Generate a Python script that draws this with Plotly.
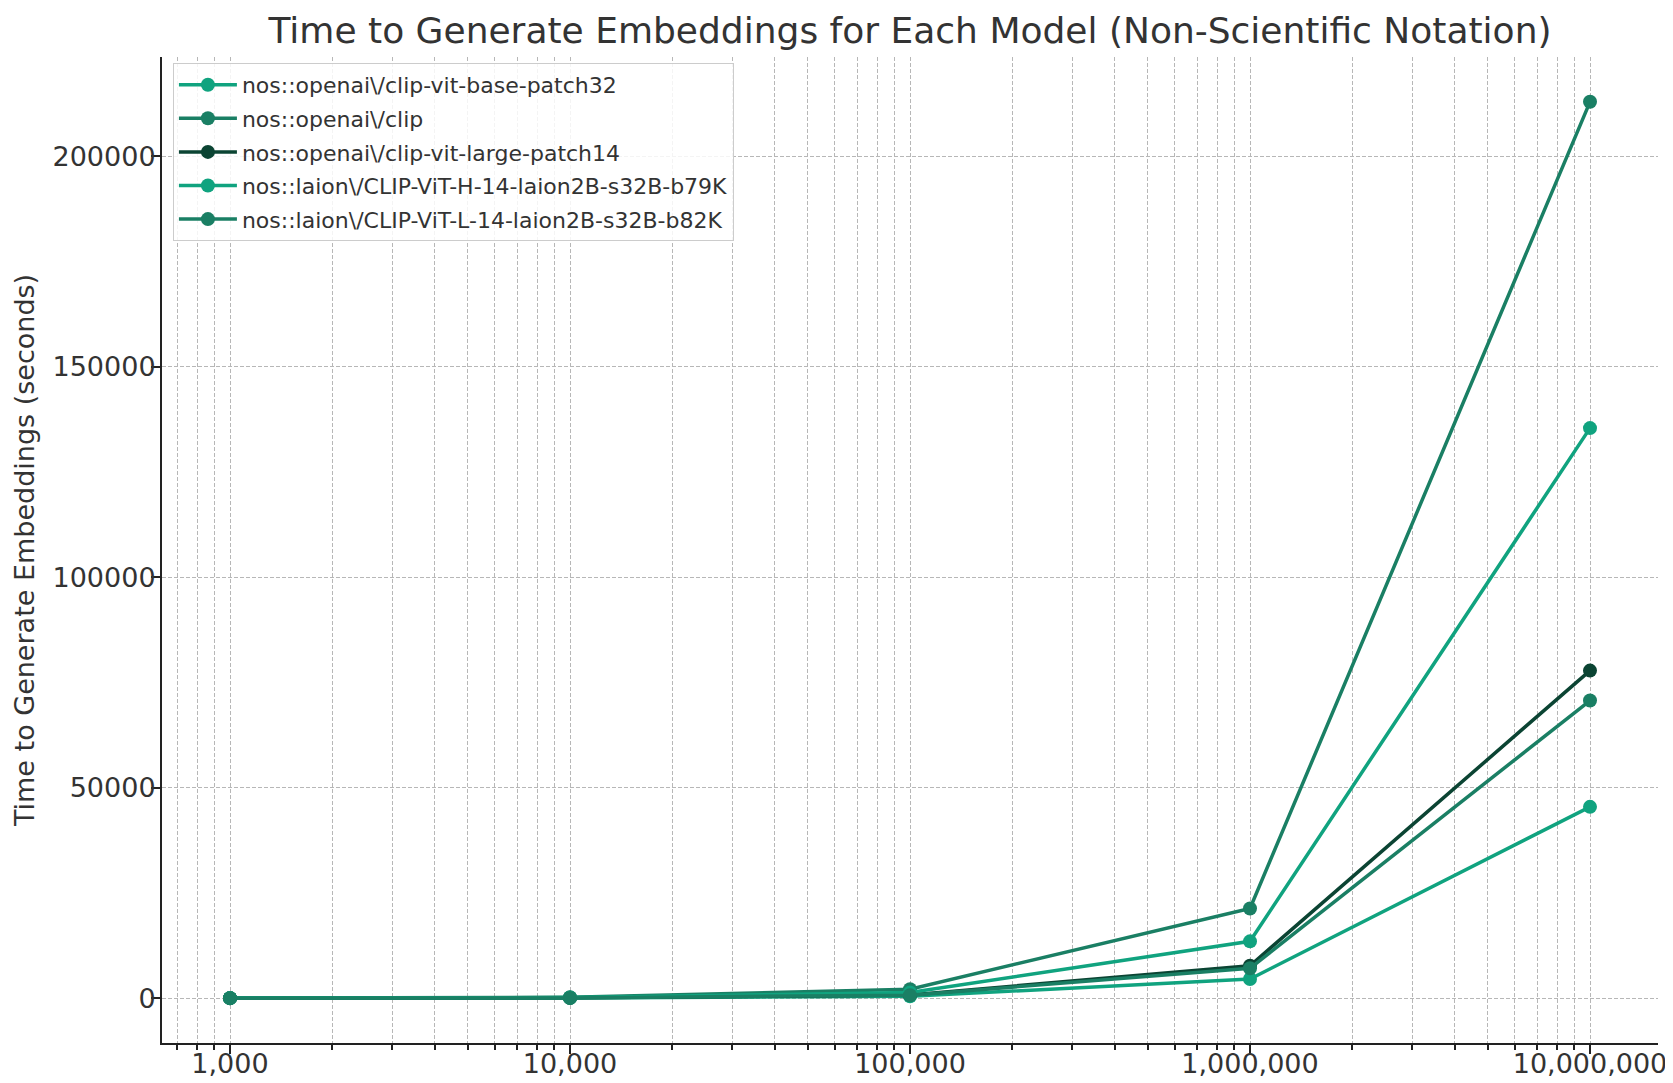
import plotly.graph_objects as go

num_items = [1000, 10000, 100000, 1000000, 10000000]
x_tick_vals = [1000, 10000, 100000, 1000000, 10000000]
x_tick_text = ["1,000", "10,000", "100,000", "1,000,000", "10,000,000"]
y_tick_vals = [0, 50000, 100000, 150000, 200000]

model_names = [
    "nos::openai\\/clip-vit-base-patch32",
    "nos::openai\\/clip",
    "nos::openai\\/clip-vit-large-patch14",
    "nos::laion\\/CLIP-ViT-H-14-laion2B-s32B-b79K",
    "nos::laion\\/CLIP-ViT-L-14-laion2B-s32B-b82K",
]
times_base_patch32 = [4.5, 45, 455, 4550, 45450]
times_clip = [21.3, 213, 2130, 21300, 212900]
times_large_patch14 = [7.8, 78, 780, 7700, 77800]
times_h14 = [13.5, 135, 1350, 13500, 135400]
times_l14 = [7.1, 71, 710, 7100, 70700]
series = [times_base_patch32, times_clip, times_large_patch14, times_h14, times_l14]

colors = ["#10a37f", "#1a7f64", "#0b4433", "#10a37f", "#1a7f64"]

fig = go.Figure()
for i, (name, vals, col) in enumerate(zip(model_names, series, colors)):
    fig.add_trace(go.Scatter(
        x=num_items, y=vals, name=name, mode="lines+markers",
        legendgroup=f"g{i}",
        line=dict(color=col, width=3.5),
        marker=dict(color=col, size=14),
    ))

grid_col = "#b7b7b7"
text_col = "#333333"
axis_col = "#222222"
fig.update_layout(
    width=1673, height=1083,
    margin=dict(l=154, r=23, t=49, b=19),
    paper_bgcolor="white", plot_bgcolor="white",
    font=dict(family="DejaVu Sans", color=text_col, size=27),
    title=dict(
        text="Time to Generate Embeddings for Each Model (Non-Scientific Notation)",
        x=0.5, xref="paper", xanchor="center",
        y=1 - 22.5 / 1083, yref="container", yanchor="middle",
        font=dict(size=36, color=text_col),
    ),
    legend=dict(
        x=0.0073, y=0.994, xanchor="left", yanchor="top",
        bgcolor="rgba(255,255,255,0.85)", bordercolor="#cccccc", borderwidth=1,
        font=dict(size=22, color=text_col),
        tracegroupgap=2, itemwidth=58,
    ),
    showlegend=True,
)
fig.update_xaxes(
    type="log", range=[2.8, 7.2],
    tickvals=x_tick_vals, ticktext=x_tick_text,
    showline=True, linecolor=axis_col, linewidth=2, mirror=False,
    ticks="outside", ticklen=9, tickwidth=2, tickcolor=axis_col,
    ticklabelstandoff=-13,
    showgrid=True, gridcolor=grid_col, gridwidth=1, griddash="4px,2px",
    minor=dict(dtick="D1", showgrid=True, gridcolor=grid_col, gridwidth=1,
               griddash="4px,2px", ticks="outside", ticklen=5, tickcolor=axis_col),
    zeroline=False,
    tickfont=dict(size=27, color=text_col),
)
fig.update_yaxes(
    range=[-10645, 223545],
    tickvals=y_tick_vals, tickformat="d",
    showline=True, linecolor=axis_col, linewidth=2, mirror=False,
    ticks="outside", ticklen=9, tickwidth=2, tickcolor=axis_col,
    ticklabelstandoff=-10,
    showgrid=True, gridcolor=grid_col, gridwidth=1, griddash="4px,2px",
    zeroline=False,
    tickfont=dict(size=27, color=text_col),
    title=dict(text="Time to Generate Embeddings (seconds)", standoff=10,
               font=dict(size=27, color=text_col)),
)

fig.write_html("out.html")
